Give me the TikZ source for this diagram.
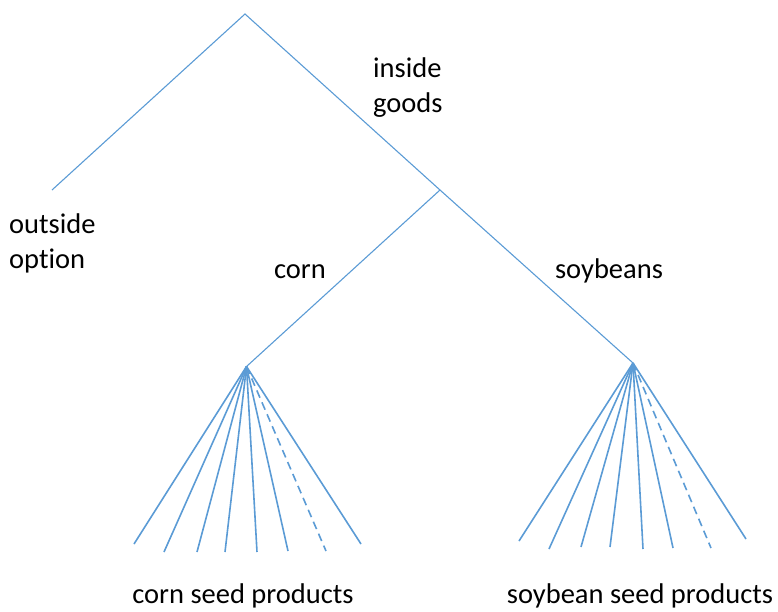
\documentclass[tikz,border=0pt]{standalone}
\usepackage{fontspec}
\setmainfont[Ligatures={NoCommon}]{Carlito}
\definecolor{lineblue}{RGB}{91,155,213}
\begin{document}
\begin{tikzpicture}[x=1pt,y=-1pt,
  branch/.style={draw=lineblue,line width=1.1pt},
  leaf/.style={draw=lineblue,line width=1.6pt},
  dleaf/.style={leaf,dash pattern=on 8pt off 5pt},
  lbl/.style={inner sep=0pt,align=left,font=\fontsize{28.5}{35}\selectfont}]
\useasboundingbox (0,0) rectangle (778,611);
\coordinate (root) at (245,14);
\coordinate (out) at (52,190);
\coordinate (ins) at (440,190);
\coordinate (corn) at (246.5,366.5);
\coordinate (soy) at (633,363);
\draw[branch] (out) -- (root) -- (ins) -- (soy);
\draw[branch] (ins) -- (corn);
% corn fan
\coordinate (c1) at (134,544);
\coordinate (c2) at (164,552);
\coordinate (c3) at (197,552);
\coordinate (c4) at (225,552);
\coordinate (c5) at (257,552);
\coordinate (c6) at (288,551);
\coordinate (c7) at (326,551);
\coordinate (c8) at (361,544);
\foreach \p in {c1,c2,c3,c4,c5,c6,c8} \draw[leaf] (corn) -- (\p);
\draw[dleaf] (corn) -- (c7);
% soybean fan
\coordinate (s1) at (519,541);
\coordinate (s2) at (549,549);
\coordinate (s3) at (581,547);
\coordinate (s4) at (610,547);
\coordinate (s5) at (643,549);
\coordinate (s6) at (673,548);
\coordinate (s7) at (711,548);
\coordinate (s8) at (746,539);
\foreach \p in {s1,s2,s3,s4,s5,s6,s8} \draw[leaf] (soy) -- (\p);
\draw[dleaf] (soy) -- (s7);
% labels
\node[lbl,anchor=west] (tins) at (373,88) {inside\\goods};
\node[lbl,anchor=west] (tout) at (9,243) {outside\\option};
\node[lbl] (tcorn) at (300,272) {corn};
\node[lbl] (tsoy) at (609,271) {soybeans};
\node[lbl] (tcp) at (243,596) {corn seed products};
\node[lbl] (tsp) at (640,596) {soybean seed products};
\end{tikzpicture}
\end{document}
